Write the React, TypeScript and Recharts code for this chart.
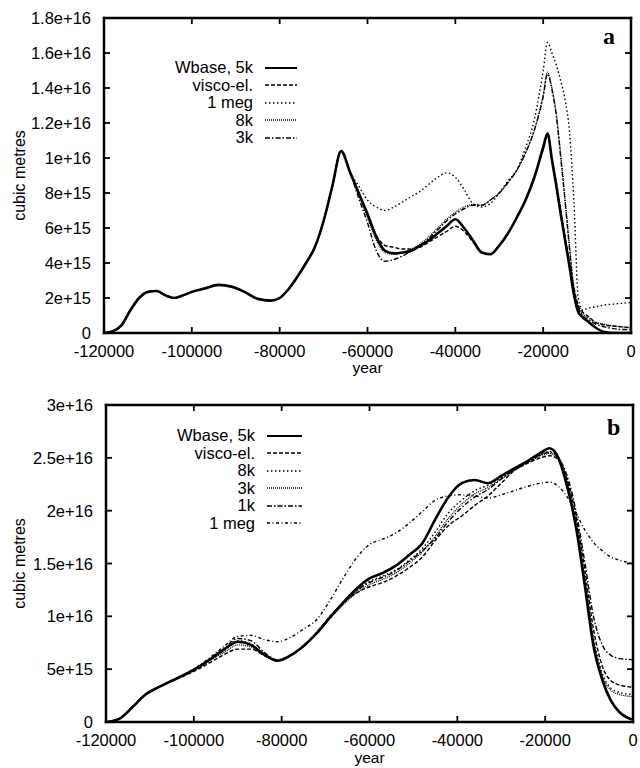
import React from 'react';
import { LineChart, Line, XAxis, YAxis, Legend, Label } from 'recharts';

const FONT = '"Liberation Sans", Arial, Helvetica, sans-serif';
const SERIF = '"Liberation Serif", "Times New Roman", serif';
const UNIT = 1e15;

// ---------------- Panel a (values in 1e15 m^3) ----------------
const yearsA = [
  -120000, -118000, -116000, -114000, -112000, -110000, -108000, -106000, -104000, -102000,
  -100000, -97000, -94000, -91000, -88000, -85000, -82000, -80000, -78000, -76000,
  -74000, -72000, -70000, -68000, -66000, -64000, -62000, -60000, -58000, -56000,
  -54000, -52000, -50000, -48000, -46000, -44000, -42000, -40000, -38000, -36000,
  -34000, -32000, -30000, -28000, -26000, -24000, -22000, -20000, -19000, -18000,
  -17000, -16000, -15000, -14000, -13000, -12000, -11000, -10000, -8000, -6000,
  -4000, -2000, 0,
];
const commonStartA = [
  0, 0.1, 0.45, 1.3, 2.0, 2.35, 2.4, 2.15, 2.0, 2.15,
  2.35, 2.55, 2.75, 2.65, 2.35, 1.95, 1.85, 2.0, 2.5, 3.2,
  4.0, 4.9, 6.4, 8.4, 10.4, 9.2,
];
const wbaseA = [
  ...commonStartA,
  8.0, 6.8, 5.5, 4.7, 4.55, 4.6, 4.7, 5.0, 5.3, 5.7,
  6.1, 6.5, 6.0, 5.3, 4.6, 4.5, 5.0, 5.7, 6.6, 7.6,
  8.9, 10.6, 11.4, 9.9, 8.4, 6.8, 5.3, 3.8, 2.2, 1.2,
  0.9, 0.7, 0.3, 0.05, 0, 0, 0,
];
const viscoA = [
  ...commonStartA,
  8.0, 6.8, 5.6, 5.0, 4.9, 4.8, 4.8, 4.9, 5.2, 5.5,
  5.8, 6.1, 5.8, 5.2, 4.6, 4.5, 5.0, 5.7, 6.6, 7.6,
  8.9, 10.5, 11.3, 10.0, 8.6, 7.0, 5.5, 4.0, 2.6, 1.6,
  1.2, 1.0, 0.6, 0.45, 0.4, 0.35, 0.3,
];
const meg1A = [
  ...commonStartA,
  8.4, 7.6, 7.2, 7.0, 7.2, 7.5, 7.8, 8.1, 8.5, 8.9,
  9.15, 8.9, 8.2, 7.4, 7.2, 7.4, 8.0, 8.7, 9.3, 10.6,
  12.2, 15.0, 16.6, 16.0, 15.3, 14.4, 13.3, 11.5, 7.5, 2.0,
  1.3, 1.4, 1.5, 1.6, 1.65, 1.7, 1.75,
];
const k8A = [
  ...commonStartA,
  7.9, 6.6, 5.3, 4.6, 4.5, 4.6, 4.8, 5.1, 5.5, 6.0,
  6.5, 6.9, 7.2, 7.35, 7.3, 7.6, 8.0, 8.6, 9.3, 10.3,
  11.6, 13.6, 14.9, 14.0, 12.5, 10.2, 7.6, 5.0, 2.6, 1.5,
  1.1, 0.9, 0.6, 0.5, 0.4, 0.35, 0.3,
];
const k3A = [
  ...commonStartA,
  7.7, 6.3, 4.7, 4.1, 4.2, 4.4, 4.7, 5.0, 5.4, 5.9,
  6.4, 6.8, 7.1, 7.3, 7.3, 7.6, 8.0, 8.6, 9.3, 10.3,
  11.6, 13.5, 14.8, 13.9, 12.4, 10.0, 7.5, 4.8, 2.4, 1.4,
  1.0, 0.8, 0.5, 0.35, 0.25, 0.2, 0.2,
];

// ---------------- Panel b (values in 1e15 m^3) ----------------
const yearsB = [
  -120000, -117000, -114000, -111000, -108000, -105000, -102000, -99000, -96000, -93000,
  -90000, -87000, -84000, -81000, -78000, -75000, -72000, -69000, -66000, -63000,
  -60000, -57000, -54000, -51000, -48000, -45000, -42000, -39000, -36000, -33000,
  -30000, -27000, -24000, -21000, -19000, -17000, -15000, -13000, -11000, -9000,
  -7000, -5000, -3000, 0,
];
const wbaseB = [
  0, 0.3, 1.4, 2.6, 3.3, 3.9, 4.5, 5.2, 6.0, 6.9,
  7.6, 7.3, 6.4, 5.8, 6.3, 7.2, 8.4, 9.9, 11.3, 12.6,
  13.6, 14.1, 14.8, 15.8, 16.9, 19.2, 21.3, 22.6, 22.9, 22.6,
  23.3, 24.0, 24.7, 25.5, 25.9, 25.0, 22.3, 18.5, 13.0, 7.2,
  4.0, 2.0, 0.9, 0.2,
];
const viscoB = [
  0, 0.3, 1.4, 2.6, 3.3, 3.9, 4.4, 5.0, 5.7, 6.4,
  6.9, 6.9, 6.3, 5.8, 6.3, 7.2, 8.5, 10.0, 11.3, 12.2,
  12.8, 13.2, 13.8, 14.6, 15.6, 17.2, 18.6, 19.5, 20.5, 21.4,
  22.6, 23.8, 24.5, 25.0, 25.2, 24.8, 23.0, 19.5, 14.5, 8.8,
  5.3, 3.9, 3.5, 3.3,
];
const k8B = [
  0, 0.3, 1.4, 2.6, 3.3, 3.9, 4.5, 5.2, 6.0, 6.8,
  7.7, 7.4, 6.4, 5.8, 6.3, 7.2, 8.4, 9.9, 11.2, 12.4,
  13.3, 13.8, 14.4, 15.3, 16.4, 18.0, 19.8, 21.0, 21.9, 22.4,
  23.1, 23.9, 24.6, 25.3, 25.6, 25.0, 22.8, 19.0, 13.8, 8.0,
  4.6, 3.2, 2.8, 2.6,
];
const k3B = [
  0, 0.3, 1.4, 2.6, 3.3, 3.9, 4.5, 5.1, 5.9, 6.6,
  7.3, 7.1, 6.3, 5.8, 6.3, 7.2, 8.4, 9.8, 11.1, 12.2,
  13.0, 13.5, 14.1, 15.0, 16.1, 17.6, 19.3, 20.6, 21.6, 22.2,
  23.0, 23.8, 24.5, 25.2, 25.4, 24.9, 22.6, 18.8, 13.6, 7.8,
  4.4, 3.0, 2.6, 2.4,
];
const k1B = [
  0, 0.3, 1.4, 2.6, 3.3, 3.9, 4.5, 5.2, 6.1, 7.0,
  7.9, 7.7, 6.6, 5.9, 6.3, 7.2, 8.4, 9.9, 11.2, 12.4,
  13.2, 13.7, 14.3, 15.2, 16.2, 17.4, 19.0, 20.3, 21.3, 22.0,
  23.0, 23.9, 24.6, 25.3, 25.5, 25.0, 23.3, 20.0, 15.2, 10.0,
  7.3, 6.3, 6.0, 5.9,
];
const meg1B = [
  0, 0.3, 1.4, 2.6, 3.3, 3.9, 4.5, 5.3, 6.2, 7.2,
  8.1, 8.2, 7.8, 7.6, 8.0, 8.8, 9.7, 11.5, 13.6, 15.5,
  16.8, 17.3, 17.9, 18.8, 19.9, 21.0, 21.4, 21.5, 21.4, 21.2,
  21.5, 21.9, 22.3, 22.6, 22.7, 22.3, 21.3, 19.8, 18.2, 17.0,
  16.2, 15.6, 15.3, 15.0,
];

// ---------------- ticks ----------------
const xTicks = [-120000, -100000, -80000, -60000, -40000, -20000, 0];
const yTicksA = [0, 2e15, 4e15, 6e15, 8e15, 1e16, 1.2e16, 1.4e16, 1.6e16, 1.8e16];
const yTicksB = [0, 5e15, 1e16, 1.5e16, 2e16, 2.5e16, 3e16];

type Series = { key: string; name: string; values: number[]; dash?: string; width: number };

const seriesA: Series[] = [
  { key: 'wbase', name: 'Wbase, 5k', values: wbaseA, width: 2.6 },
  { key: 'visco', name: 'visco-el.', values: viscoA, dash: '4 2', width: 1.4 },
  { key: 'meg1', name: '1 meg', values: meg1A, dash: '1.5 2.5', width: 1.4 },
  { key: 'k8', name: '8k', values: k8A, dash: '1 1', width: 1.3 },
  { key: 'k3', name: '3k', values: k3A, dash: '5 2 1.5 2', width: 1.4 },
];

const seriesB: Series[] = [
  { key: 'wbase', name: 'Wbase, 5k', values: wbaseB, width: 2.6 },
  { key: 'visco', name: 'visco-el.', values: viscoB, dash: '4 2', width: 1.4 },
  { key: 'k8', name: '8k', values: k8B, dash: '1.5 2.5', width: 1.4 },
  { key: 'k3', name: '3k', values: k3B, dash: '1 1', width: 1.3 },
  { key: 'k1', name: '1k', values: k1B, dash: '5 2 1.5 2', width: 1.4 },
  { key: 'meg1', name: '1 meg', values: meg1B, dash: '3 2.5 1 2.5', width: 1.4 },
];

const buildRows = (years: number[], series: Series[]) =>
  years.map((year, i) => {
    const row: Record<string, number> = { year };
    series.forEach((s) => {
      row[s.key] = s.values[i] * UNIT;
    });
    return row;
  });

const rowsA = buildRows(yearsA, seriesA);
const rowsB = buildRows(yearsB, seriesB);

const fmtY = (v: number) => (v === 0 ? '0' : v.toExponential());

const TICK_FS = 16.5;
const AXIS = { stroke: '#000', strokeWidth: 2.5, strokeLinecap: 'square' as const };

const bottomTick = (labelOffset: number) => (props: any) => {
  const { x, y, payload } = props;
  return (
    <g>
      <line x1={x} y1={y} x2={x} y2={y - 6} stroke="#000" strokeWidth={1.8} />
      <text x={x} y={y + labelOffset} textAnchor="middle" dominantBaseline="central" fontFamily={FONT} fontSize={TICK_FS} fill="#000">
        {payload.value}
      </text>
    </g>
  );
};
const topTick = (props: any) => {
  const { x, y } = props;
  return <line x1={x} y1={y} x2={x} y2={y + 6} stroke="#000" strokeWidth={1.8} />;
};
const leftTick = (props: any) => {
  const { x, y, payload } = props;
  return (
    <g>
      <line x1={x} y1={y} x2={x + 6} y2={y} stroke="#000" strokeWidth={1.8} />
      <text x={x - 13} y={y} textAnchor="end" dominantBaseline="central" fontFamily={FONT} fontSize={TICK_FS} fill="#000">
        {fmtY(payload.value)}
      </text>
    </g>
  );
};
const rightTick = (props: any) => {
  const { x, y } = props;
  return <line x1={x} y1={y} x2={x - 6} y2={y} stroke="#000" strokeWidth={1.8} />;
};

const yLabel = (p: any) => {
  const vb = p.viewBox || { x: 0, y: 0, width: 0, height: 0 };
  const cx = (vb.x || 0) + 19;
  const cy = (vb.y || 0) + (vb.height || 0) / 2;
  return (
    <text x={cx} y={cy} transform={`rotate(-90 ${cx} ${cy})`} textAnchor="middle" dominantBaseline="central" fontFamily={FONT} fontSize={16} fill="#000">
      cubic metres
    </text>
  );
};
const xLabel = (offset: number) => (p: any) => {
  const vb = p.viewBox || { x: 0, y: 0, width: 0, height: 0 };
  const cx = (vb.x || 0) + (vb.width || 0) / 2;
  const cy = (vb.y || 0) + offset;
  return (
    <text x={cx} y={cy} textAnchor="middle" dominantBaseline="central" fontFamily={FONT} fontSize={15.5} fill="#000">
      year
    </text>
  );
};

const LegendBox = ({ items, lineW, gap }: { items: Series[]; lineW: number; gap: number }) => (
  <div style={{ fontFamily: FONT, fontSize: TICK_FS, color: '#000', lineHeight: '17.5px' }}>
    {items.map((s) => (
      <div key={s.key} style={{ display: 'flex', justifyContent: 'flex-end', alignItems: 'center', height: 17.5 }}>
        <span style={{ whiteSpace: 'nowrap' }}>{s.name}</span>
        <svg width={lineW} height={8} style={{ marginLeft: gap, display: 'block' }}>
          <line x1={0} y1={4} x2={lineW} y2={4} stroke="#000" strokeWidth={s.width > 2 ? 2 : 1.3} strokeDasharray={s.dash} />
        </svg>
      </div>
    ))}
  </div>
);

type PanelProps = {
  rows: Record<string, number>[];
  series: Series[];
  yTicks: number[];
  yMax: number;
  height: number;
  topH: number;
  bottomH: number;
  leftW: number;
  rightW: number;
  tickOffset: number;
  yearOffset: number;
  legendPos: { left: number; top: number; lineW: number; gap: number };
};

const Panel = (p: PanelProps) => {
  const drawOrder = [...p.series].reverse();
  return (
    <LineChart width={640} height={p.height} data={p.rows} margin={{ top: 0, right: 0, bottom: 0, left: 0 }}>
      <XAxis
        dataKey="year"
        type="number"
        domain={[-120000, 0]}
        ticks={xTicks}
        interval={0}
        allowDataOverflow
        height={p.bottomH}
        axisLine={AXIS}
        tickLine={false}
        tickSize={0}
        tickMargin={0}
        tick={bottomTick(p.tickOffset)}
      >
        <Label content={xLabel(p.yearOffset)} />
      </XAxis>
      <XAxis
        xAxisId="top"
        dataKey="year"
        type="number"
        orientation="top"
        domain={[-120000, 0]}
        ticks={xTicks}
        interval={0}
        allowDataOverflow
        height={p.topH}
        axisLine={AXIS}
        tickLine={false}
        tickSize={0}
        tickMargin={0}
        tick={topTick}
      />
      <YAxis
        type="number"
        domain={[0, p.yMax]}
        ticks={p.yTicks}
        interval={0}
        allowDataOverflow
        width={p.leftW}
        axisLine={AXIS}
        tickLine={false}
        tickSize={0}
        tickMargin={0}
        tick={leftTick}
      >
        <Label content={yLabel} />
      </YAxis>
      <YAxis
        yAxisId="right"
        orientation="right"
        type="number"
        domain={[0, p.yMax]}
        ticks={p.yTicks}
        interval={0}
        allowDataOverflow
        width={p.rightW}
        axisLine={AXIS}
        tickLine={false}
        tickSize={0}
        tickMargin={0}
        tick={rightTick}
      />
      {drawOrder.map((s) => (
        <Line
          key={s.key}
          dataKey={s.key}
          name={s.name}
          type="monotone"
          stroke="#000"
          strokeWidth={s.width}
          strokeDasharray={s.dash}
          dot={false}
          activeDot={false}
          isAnimationActive={false}
        />
      ))}
      <Legend
        layout="vertical"
        align="center"
        verticalAlign="middle"
        wrapperStyle={{ left: p.legendPos.left, top: p.legendPos.top, width: 200, right: 'auto', bottom: 'auto' }}
        content={() => <LegendBox items={p.series} lineW={p.legendPos.lineW} gap={p.legendPos.gap} />}
      />
    </LineChart>
  );
};

export default function App() {
  return (
    <div style={{ position: 'absolute', left: 0, top: 0, width: 640, height: 768, background: '#fff', overflow: 'hidden' }}>
      <div style={{ position: 'absolute', left: 0, top: 0 }}>
        <Panel
          rows={rowsA}
          series={seriesA}
          yTicks={yTicksA}
          yMax={1.8e16}
          height={380}
          topH={18}
          bottomH={47}
          leftW={104}
          rightW={9}
          tickOffset={17.5}
          yearOffset={34}
          legendPos={{ left: 97, top: 59, lineW: 32, gap: 12 }}
        />
      </div>
      <div style={{ position: 'absolute', left: 0, top: 380 }}>
        <Panel
          rows={rowsB}
          series={seriesB}
          yTicks={yTicksB}
          yMax={3e16}
          height={388}
          topH={25}
          bottomH={46}
          leftW={106}
          rightW={7}
          tickOffset={17.5}
          yearOffset={35}
          legendPos={{ left: 102, top: 47, lineW: 35, gap: 12 }}
        />
      </div>
      <div style={{ position: 'absolute', left: 603, top: 24, fontFamily: SERIF, fontWeight: 'bold', fontSize: 24, lineHeight: '24px', color: '#000' }}>a</div>
      <div style={{ position: 'absolute', left: 607, top: 415, fontFamily: SERIF, fontWeight: 'bold', fontSize: 24, lineHeight: '24px', color: '#000' }}>b</div>
    </div>
  );
}
